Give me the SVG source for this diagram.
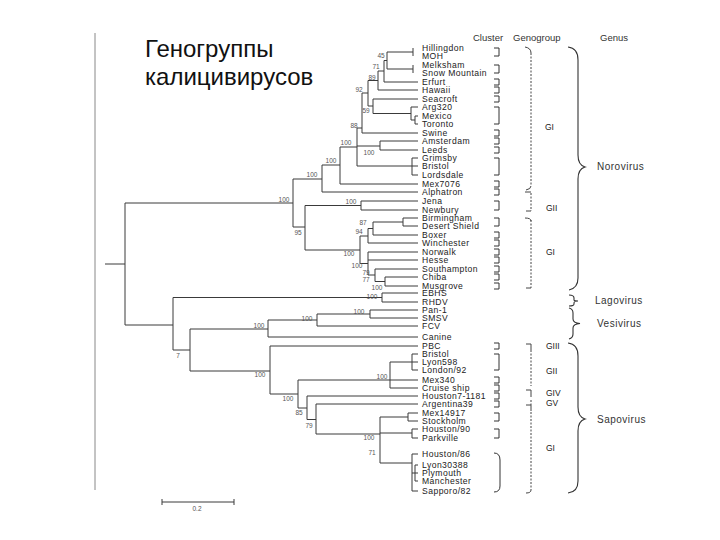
<svg xmlns="http://www.w3.org/2000/svg" width="720" height="540" viewBox="0 0 720 540">
<style>
.br{fill:none;stroke:#3a3a3a;stroke-width:1}
.lf{font-family:"Liberation Sans",Arial,sans-serif;font-size:8.6px;letter-spacing:0.45px;fill:#222}
.bs{font-family:"Liberation Sans",Arial,sans-serif;font-size:6.5px;fill:#555;text-anchor:middle}
.hd{font-family:"Liberation Sans",Arial,sans-serif;font-size:9.5px;fill:#333}
.gg{font-family:"Liberation Sans",Arial,sans-serif;font-size:8.5px;fill:#222}
.gn{font-family:"Liberation Sans",Arial,sans-serif;font-size:10px;fill:#333;letter-spacing:0.5px}
.cl{fill:none;stroke:#333;stroke-width:1}
.dg{fill:none;stroke:#444;stroke-width:1;stroke-dasharray:2 1.5}
.tk{fill:none;stroke:#444;stroke-width:1}
.bc{fill:none;stroke:#333;stroke-width:1.1}
.ttl{font-family:"Liberation Sans","Noto Sans",Arial,sans-serif;font-size:24px;fill:#111}
</style>
<rect width="720" height="540" fill="#fff"/>
<line x1="95" y1="33" x2="95" y2="490" stroke="#888" stroke-width="1"/>
<g id="title">
<text class="ttl" x="145" y="57">Геногруппы</text>
<text class="ttl" x="145" y="85">калицивирусов</text>
</g>
<g id="headers">
<text class="hd" x="473" y="41">Cluster</text>
<text class="hd" x="513" y="41">Genogroup</text>
<text class="hd" x="600" y="41">Genus</text>
</g>
<g id="connectors">
<path class="br" d="M413,48V56M387,52H413M413,65V73M387,69H413M387,52V69M384,60.5H387M384,60.5V82M384,82H418M378,71H384M378,71V90M378,90H418M368,80.5H378
M415,116V124M415,116H418M415,124H418M411,107V120M411,107H418M411,120H415M373,99V113.5M373,99H418M373,113.5H411M368,80.5V106M368,106H373
M362,93V133M362,93H368M362,133H418M380,141V150M380,141H418M380,150H418M357,146H380
M412,158V175M412,158H418M412,166H418M412,175H418M357,166H412M357,128V166M357,128H362M340,147H357
M340,147V184M340,184H418M322,165H340M322,165V192M322,192H418M293,179H322M293,179V227M125,203H293
M361,201V210M361,201H418M361,210H418M305,205.5H361
M403,218V226M403,218H418M403,226H418M373,222H403M373,222V235M373,235H418M368,228.5H373M368,228.5V243M368,243H418M360,236H368
M385,277V286M385,277H418M385,286H418M375,281.5H385M375,269V281.5M375,269H418M368,275H375M368,252V275M368,252H418M368,260H418M360,263.5H368
M360,236V263.5M305,250H360M305,205.5V250M293,227H305
M125,203V325M105,264H125M173,297.5V350M125,325H173
M382,293V302M382,293H418M382,302H418M173,297.5H382
M190,329V371M173,350H190M268,320V337M268,337H418M190,329H268M317,314V326M317,326H418M268,320H317M370,310V318M370,310H418M370,318H418M317,314H370
M270,346V394M270,346H418M190,371H270M298,380V408M270,394H298
M390,362V388M390,380H418M390,388H418M298,380H390M412,354V370M412,354H418M412,362H418M412,370H418M390,362H412
M307,396V419.5M307,396H418M298,408H307M316,404V434M316,404H418M307,419.5H316M380,417V463M316,434H380
M408,413V421M408,413H418M408,421H418M380,417H408M412,429V438M412,429H418M412,438H418M380,433H412
M412,454V491M412,454H418M412,491H418M380,463H412M415,465V481M415,465H418M415,473H418M415,481H418M412,473H415"/>
<path class="br" d="M162,502H234M162,499V505M234,499V505"/>
</g>
<g id="bootstrap">
<text class="bs" x="381" y="58">45</text>
<text class="bs" x="376" y="69">71</text>
<text class="bs" x="372" y="80">89</text>
<text class="bs" x="359" y="92">92</text>
<text class="bs" x="366" y="113">59</text>
<text class="bs" x="354" y="128">88</text>
<text class="bs" x="346" y="145">100</text>
<text class="bs" x="369" y="155">100</text>
<text class="bs" x="331" y="163">100</text>
<text class="bs" x="312" y="177">100</text>
<text class="bs" x="284" y="202">100</text>
<text class="bs" x="351" y="204">100</text>
<text class="bs" x="298" y="235">95</text>
<text class="bs" x="363" y="225">87</text>
<text class="bs" x="359" y="234">94</text>
<text class="bs" x="349" y="256">100</text>
<text class="bs" x="357" y="268">100</text>
<text class="bs" x="366" y="275">79</text>
<text class="bs" x="366" y="282">77</text>
<text class="bs" x="377" y="290">100</text>
<text class="bs" x="372" y="299">100</text>
<text class="bs" x="359" y="314">100</text>
<text class="bs" x="307" y="321">100</text>
<text class="bs" x="259" y="328">100</text>
<text class="bs" x="178" y="358">7</text>
<text class="bs" x="260" y="377">100</text>
<text class="bs" x="382" y="379">100</text>
<text class="bs" x="288" y="401">100</text>
<text class="bs" x="299" y="415">85</text>
<text class="bs" x="309" y="428">79</text>
<text class="bs" x="369" y="440">100</text>
<text class="bs" x="372" y="455">71</text>
<text class="bs" x="197" y="511">0.2</text>
</g>
<g id="leaves">
<g id="n-hillingdon"><text class="lf" x="422" y="51">Hillingdon</text></g>
<g id="n-moh"><text class="lf" x="422" y="59">MOH</text></g>
<g id="n-melksham"><text class="lf" x="422" y="68">Melksham</text></g>
<g id="n-snowmountain"><text class="lf" x="422" y="76">Snow Mountain</text></g>
<g id="n-erfurt"><text class="lf" x="422" y="85">Erfurt</text></g>
<g id="n-hawaii"><text class="lf" x="422" y="93">Hawaii</text></g>
<g id="n-seacroft"><text class="lf" x="422" y="102">Seacroft</text></g>
<g id="n-arg320"><text class="lf" x="422" y="110">Arg320</text></g>
<g id="n-mexico"><text class="lf" x="422" y="119">Mexico</text></g>
<g id="n-toronto"><text class="lf" x="422" y="127">Toronto</text></g>
<g id="n-swine"><text class="lf" x="422" y="136">Swine</text></g>
<g id="n-amsterdam"><text class="lf" x="422" y="144">Amsterdam</text></g>
<g id="n-leeds"><text class="lf" x="422" y="153">Leeds</text></g>
<g id="n-grimsby"><text class="lf" x="422" y="161">Grimsby</text></g>
<g id="n-bristol1"><text class="lf" x="422" y="169">Bristol</text></g>
<g id="n-lordsdale"><text class="lf" x="422" y="178">Lordsdale</text></g>
<g id="n-mex7076"><text class="lf" x="422" y="187">Mex7076</text></g>
<g id="n-alphatron"><text class="lf" x="422" y="195">Alphatron</text></g>
<g id="n-jena"><text class="lf" x="422" y="204">Jena</text></g>
<g id="n-newbury"><text class="lf" x="422" y="213">Newbury</text></g>
<g id="n-birmingham"><text class="lf" x="422" y="221">Birmingham</text></g>
<g id="n-desertshield"><text class="lf" x="422" y="229">Desert Shield</text></g>
<g id="n-boxer"><text class="lf" x="422" y="238">Boxer</text></g>
<g id="n-winchester"><text class="lf" x="422" y="246">Winchester</text></g>
<g id="n-norwalk"><text class="lf" x="422" y="255">Norwalk</text></g>
<g id="n-hesse"><text class="lf" x="422" y="263">Hesse</text></g>
<g id="n-southampton"><text class="lf" x="422" y="272">Southampton</text></g>
<g id="n-chiba"><text class="lf" x="422" y="280">Chiba</text></g>
<g id="n-musgrove"><text class="lf" x="422" y="289">Musgrove</text></g>
<g id="n-ebhs"><text class="lf" x="422" y="296">EBHS</text></g>
<g id="n-rhdv"><text class="lf" x="422" y="305">RHDV</text></g>
<g id="n-pan1"><text class="lf" x="422" y="313">Pan-1</text></g>
<g id="n-smsv"><text class="lf" x="422" y="321">SMSV</text></g>
<g id="n-fcv"><text class="lf" x="422" y="329">FCV</text></g>
<g id="n-canine"><text class="lf" x="422" y="340">Canine</text></g>
<g id="n-pbc"><text class="lf" x="422" y="349">PBC</text></g>
<g id="n-bristol2"><text class="lf" x="422" y="357">Bristol</text></g>
<g id="n-lyon598"><text class="lf" x="422" y="365">Lyon598</text></g>
<g id="n-london92"><text class="lf" x="422" y="373">London/92</text></g>
<g id="n-mex340"><text class="lf" x="422" y="383">Mex340</text></g>
<g id="n-cruiseship"><text class="lf" x="422" y="391">Cruise ship</text></g>
<g id="n-houston7"><text class="lf" x="422" y="399">Houston7-1181</text></g>
<g id="n-argentina39"><text class="lf" x="422" y="407">Argentina39</text></g>
<g id="n-mex14917"><text class="lf" x="422" y="416">Mex14917</text></g>
<g id="n-stockholm"><text class="lf" x="422" y="424">Stockholm</text></g>
<g id="n-houston90"><text class="lf" x="422" y="432">Houston/90</text></g>
<g id="n-parkville"><text class="lf" x="422" y="441">Parkville</text></g>
<g id="n-houston86"><text class="lf" x="422" y="457">Houston/86</text></g>
<g id="n-lyon30388"><text class="lf" x="422" y="468">Lyon30388</text></g>
<g id="n-plymouth"><text class="lf" x="422" y="476">Plymouth</text></g>
<g id="n-manchester"><text class="lf" x="422" y="484">Manchester</text></g>
<g id="n-sapporo82"><text class="lf" x="422" y="494">Sapporo/82</text></g>
</g>
<g id="clusters">
<path class="cl" d="M494,48H499V56H494M494,65H499V73H494M494,79H499V85H494M494,87H499V93H494M494,96H499V102H494M494,107H499V124H494M494,130H499V136H494M494,138H499V144H494M494,147H499V153H494M494,158H499V175H494M494,181H499V187H494M494,189H499V195H494M494,201H499V210H494M494,218H499V226H494M494,232H499V238H494M494,240H499V246H494M494,249H499V255H494M494,257H499V263H494M494,266H499V272H494M494,274H499V280H494M494,283H499V289H494"/>
<path class="cl" d="M494,343H499V349H494M494,354H499V370H494M494,377H499V383H494M494,385H499V391H494M494,393H499V399H494M494,401H499V407H494M494,413H499V421H494M494,429H499V438H494M494,453Q500,453 500,460V486Q500,492 494,492"/>
</g>
<g id="genogroups">
<path class="dg" d="M531,53V186M531,193V211M531,220V288M531,350V386M531,400V405M531,412V490"/>
<path class="tk" d="M525,47Q531,48 531,53M531,186Q531,189 526,190M525,192H531M531,211H526M525,218Q531,218 531,221M531,288H526M526,344H531V350M526,390H531V397M526,405H531V411M531,490Q531,493 526,493"/>
<text class="gg" x="545" y="130">GI</text>
<text class="gg" x="546" y="211">GII</text>
<text class="gg" x="546" y="255">GI</text>
<text class="gg" x="546" y="349">GIII</text>
<text class="gg" x="546" y="374">GII</text>
<text class="gg" x="546" y="396">GIV</text>
<text class="gg" x="546" y="406">GV</text>
<text class="gg" x="546" y="451">GI</text>
</g>
<g id="genera">
<path class="bc" d="M568,47Q578,48 578,60V155Q578,165 585,167Q578,169 578,179V278Q578,288 569,290"/>
<path class="bc" d="M569,295Q574,295 574,298V300Q574,301 578,301Q574,301 574,303V304Q574,306 569,306"/>
<path class="bc" d="M569,308Q573,309 573,313V319Q573,323 580,323.5Q573,324 573,328V334Q573,338 569,339"/>
<path class="bc" d="M568,343Q578,344 578,356V407Q578,417 585,419Q578,421 578,431V481Q578,492 568,493"/>
<text class="gn" x="597" y="170">Norovirus</text>
<text class="gn" x="595" y="304">Lagovirus</text>
<text class="gn" x="597" y="327">Vesivirus</text>
<text class="gn" x="597" y="423">Sapovirus</text>
</g>
</svg>
